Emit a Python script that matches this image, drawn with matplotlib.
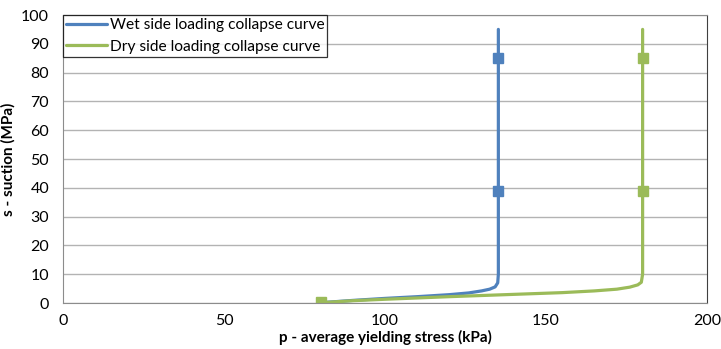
import matplotlib
matplotlib.use('Agg')

from matplotlib import rc
rc('font', family=['Lato', 'DejaVu Sans'], size=11)

from matplotlib import pyplot as plt
import numpy as np

# Loading-collapse curves, read point by point (p in kPa, s in MPa)
wet_p = [80, 90, 100, 110, 120, 126, 130, 132.5, 134.2, 135, 135.2, 135.2, 135.2]
wet_s = [0.1, 0.9, 1.6, 2.2, 2.9, 3.5, 4.2, 4.8, 5.6, 7.0, 10, 40, 95]
wet_mark_p = [135.2, 135.2]
wet_mark_s = [39, 85]

dry_p = [80, 90, 100, 120, 140, 155, 165, 172, 176, 178.5, 179.6, 180, 180, 180]
dry_s = [0.1, 0.8, 1.3, 2.2, 3.0, 3.6, 4.2, 4.8, 5.5, 6.3, 7.2, 10, 40, 95]
dry_mark_p = [80, 180, 180]
dry_mark_s = [0.3, 39, 85]

blue = '#4F81BD'
green = '#9BBB59'

fig = plt.figure(figsize=[7.21, 3.49], dpi=100)
ax = fig.add_axes([0.0874, 0.1318, 0.8932, 0.8252])

ax.plot(wet_p, wet_s, '-', color=blue, linewidth=2.3, solid_capstyle='round',
        label='Wet side loading collapse curve')
ax.plot(dry_p, dry_s, '-', color=green, linewidth=2.3, solid_capstyle='round',
        label='Dry side loading collapse curve')
ax.plot(wet_mark_p, wet_mark_s, 's', color=blue, markersize=6.5)
ax.plot(dry_mark_p, dry_mark_s, 's', color=green, markersize=6.5)

ax.set_xlim(0, 200)
ax.set_ylim(0, 100)
ax.set_xticks(np.arange(0, 201, 50))
ax.set_yticks(np.arange(0, 101, 10))
ax.tick_params(length=0, labelsize=11.5, colors='#000000', pad=8)
ax.tick_params(axis='y', pad=10)
ax.grid(True, axis='y', color='#b3b3b3', linewidth=1.0)
ax.set_axisbelow(True)

for side in ['left', 'bottom', 'top']:
    ax.spines[side].set_color('#8c8c8c')
ax.spines['right'].set_color('#404040')

ax.set_xlabel('p - average yielding stress (kPa)', fontweight='bold', labelpad=1)
ax.set_ylabel('s - suction (MPa)', fontweight='bold', labelpad=4)

leg = ax.legend(loc='upper left', frameon=True, fancybox=False, borderaxespad=0.0,
                borderpad=0.2, handlelength=2.6, handletextpad=0.2,
                labelspacing=0.5, fontsize=11.2)
leg.get_frame().set_edgecolor('#000000')
leg.get_frame().set_linewidth(0.9)

fig.savefig('out.png', dpi=100)
